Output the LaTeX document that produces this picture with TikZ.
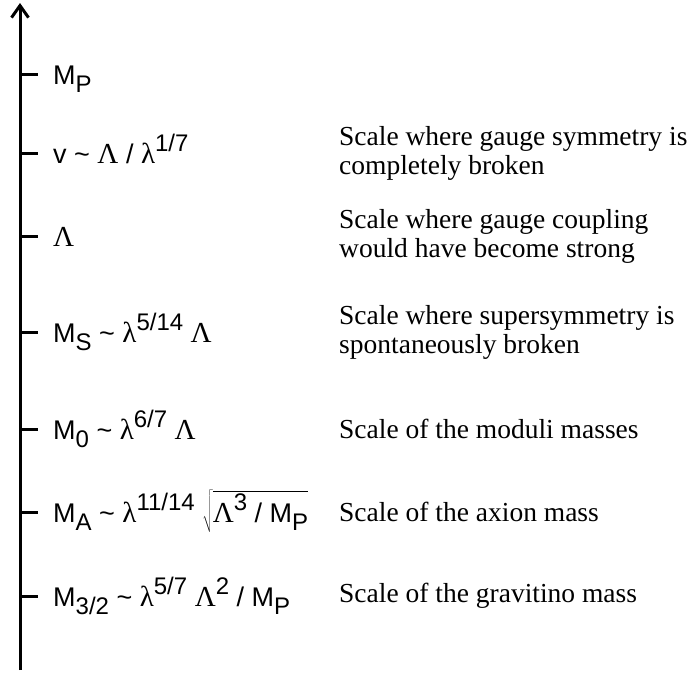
\documentclass[tikz,border=0pt]{standalone}
\usepackage{fontspec}
\setmainfont{Liberation Serif}
\newfontfamily\arialfont{Liberation Sans}
\usetikzlibrary{arrows.meta}

\newcommand{\lo}[1]{\raisebox{-0.3em}{\fontsize{24}{24}\selectfont #1}}
\newcommand{\hi}[1]{\raisebox{0.42em}{\fontsize{24}{24}\selectfont #1}}
\newcommand{\gr}[1]{{\rmfamily\fontsize{29}{29}\selectfont #1}}

\begin{document}
\begin{tikzpicture}[x=1pt, y=-1pt, every node/.style={inner sep=0pt},
    scalelabel/.style={anchor=base west, font=\arialfont\fontsize{27}{27}\selectfont},
    scaletext/.style={anchor=west, align=left, font=\fontsize{27.5}{29}\selectfont},
    tickmark/.style={line width=3pt}]
	\useasboundingbox (0,0) rectangle (691,675);

	% energy axis
	\coordinate (bot) at (20,670);
	\coordinate (top) at (20,3);
	\draw[line width=3pt, -{Straight Barb[length=12pt,width=17pt]}] (bot) -- (top);

	% ticks
	\coordinate (tP) at (20,74);
	\coordinate (tV) at (20,153);
	\coordinate (tL) at (20,236);
	\coordinate (tS) at (20,332);
	\coordinate (tO) at (20,429);
	\coordinate (tA) at (20,512);
	\coordinate (tG) at (20,596);
	\draw[tickmark] (tP) -- ++(18,0);
	\draw[tickmark] (tV) -- ++(18,0);
	\draw[tickmark] (tL) -- ++(18,0);
	\draw[tickmark] (tS) -- ++(18,0);
	\draw[tickmark] (tO) -- ++(18,0);
	\draw[tickmark] (tA) -- ++(18,0);
	\draw[tickmark] (tG) -- ++(18,0);

	% scales
	\node[scalelabel] (lblP) at (53,84) {M\lo{P}};
	\node[scalelabel] (lblV) at (53,163) {v \textasciitilde\ \gr{Λ} / \gr{λ}\hi{1/7}};
	\node[scalelabel] (lblL) at (53,246) {\gr{Λ}};
	\node[scalelabel] (lblS) at (53,342) {M\lo{S} \textasciitilde\ \gr{λ}\hi{5/14} \gr{Λ}};
	\node[scalelabel] (lblO) at (53,439) {M\lo{0} \textasciitilde\ \gr{λ}\hi{6/7} \gr{Λ}};
	\node[scalelabel] (lblA) at (53,522) {M\lo{A} \textasciitilde\ \gr{λ}\hi{11/14} $\sqrt{\mbox{\gr{Λ}\hi{3} / M\lo{P}}}$};
	\node[scalelabel] (lblG) at (53,606) {M\lo{3/2} \textasciitilde\ \gr{λ}\hi{5/7} \gr{Λ}\hi{2} / M\lo{P}};

	% meaning
	\node[scaletext] (txtV) at (339,153) {Scale where gauge symmetry is\\completely broken};
	\node[scaletext] (txtL) at (339,236) {Scale where gauge coupling\\would have become strong};
	\node[scaletext] (txtS) at (339,332) {Scale where supersymmetry is\\spontaneously broken};
	\node[scaletext] (txtO) at (339,429) {Scale of the moduli masses};
	\node[scaletext] (txtA) at (339,512) {Scale of the axion mass};
	\node[scaletext] (txtG) at (339,596) {Scale of the gravitino mass};
\end{tikzpicture}
\end{document}
